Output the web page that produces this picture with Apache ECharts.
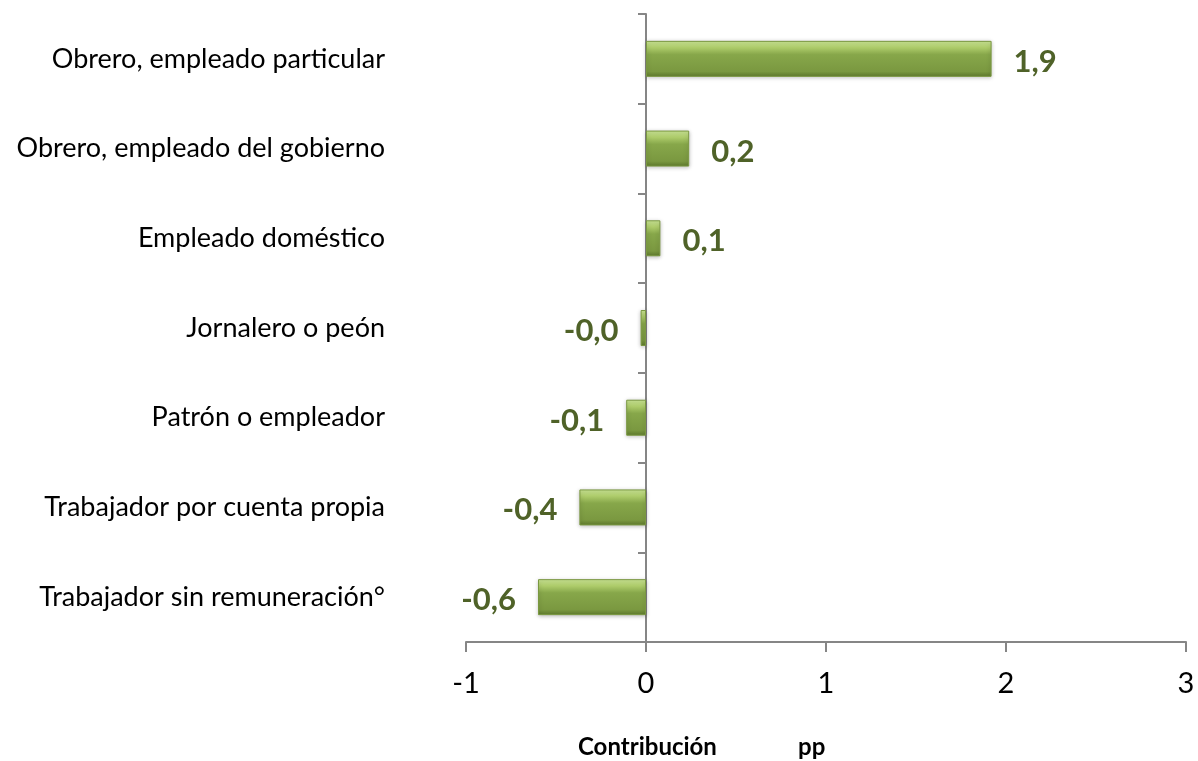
<!DOCTYPE html>
<html style="height: 100%">
    <head>
        <title>Contribución pp</title>
        <script type="text/javascript" src="https://fastly.jsdelivr.net/npm/echarts@6/dist/echarts.min.js"></script>
    </head>
    <body style="height: 100%; margin: 0; background: #fff">
        <div id="target" style="width: 1198px; height: 761px"></div>

<script type="text/javascript">
// categories, top to bottom
let categoryList = [
    "Obrero, empleado particular",
    "Obrero, empleado del gobierno",
    "Empleado doméstico",
    "Jornalero o peón",
    "Patrón o empleador",
    "Trabajador por cuenta propia",
    "Trabajador sin remuneración°",
];

// contribution in pp
let contribList = [1.92, 0.24, 0.08, -0.03, -0.11, -0.37, -0.6];

// x axis ticks
let xTickList = [-1, 0, 1, 2, 3];

let chart = echarts.init(document.getElementById('target'));

let FONT = "Lato";
let AXIS_COLOR = "#868686";

// light top strip, olive body, darker bottom edge
let barColor = new echarts.graphic.LinearGradient(0, 0, 0, 1, [
    { offset: 0,    color: "#cde897" },
    { offset: 0.18, color: "#afcd6c" },
    { offset: 0.38, color: "#87a74a" },
    { offset: 0.85, color: "#7a9840" },
    { offset: 1,    color: "#5f7b2d" },
]);

let titleStyle = {
    fontFamily: FONT,
    fontSize: 24,
    fontWeight: "bold",
    color: "#000",
};

let option = {
    animation: false,
    // axis title is two separate words in the original
    title: [
        { text: "Contribución", left: 573, top: 730, textStyle: titleStyle },
        { text: "pp",           left: 793, top: 730, textStyle: titleStyle },
    ],
    grid: {
        left: 466,
        right: 12,
        top: 14,
        bottom: 119,
        containLabel: false,
    },
    xAxis: {
        type: "value",
        min: xTickList[0],
        max: xTickList[xTickList.length - 1],
        interval: 1,
        splitLine: { show: false },
        axisLine: {
            show: true,
            lineStyle: { color: AXIS_COLOR, width: 2 },
        },
        axisTick: {
            show: true,
            length: 10,
            lineStyle: { color: AXIS_COLOR, width: 2 },
        },
        axisLabel: {
            margin: 27,
            fontFamily: FONT,
            fontSize: 29,
            color: "#000",
        },
    },
    yAxis: [
        {
            // labels only, at the left edge
            type: "category",
            data: categoryList,
            inverse: true,
            position: "left",
            axisLine: { show: false, onZero: false },
            axisTick: { show: false },
            axisLabel: {
                margin: 81,
                fontFamily: FONT,
                fontSize: 27,
                color: "#000",
            },
        },
        {
            // axis line at zero with ticks
            type: "category",
            data: categoryList,
            inverse: true,
            position: "left",
            axisLine: {
                show: true,
                onZero: true,
                lineStyle: { color: AXIS_COLOR, width: 2 },
            },
            axisTick: {
                show: true,
                length: 8,
                lineStyle: { color: AXIS_COLOR, width: 2 },
            },
            axisLabel: { show: false },
        },
    ],
    series: [
        {
            type: "bar",
            yAxisIndex: 0,
            barWidth: 36,
            itemStyle: {
                color: barColor,
                borderColor: "#7a9840",
                borderWidth: 1,
                shadowBlur: 4,
                shadowColor: "rgba(0,0,0,0.25)",
                shadowOffsetY: 1,
            },
            label: {
                show: true,
                distance: 22,
                offset: [0, 3],
                fontFamily: FONT,
                fontSize: 31,
                fontWeight: "bold",
                color: "#4f6228",
                formatter: params => {
                    let s = params.value.toFixed(1).replace(".", ",");
                    if (params.value < 0 && s.charAt(0) != "-")
                    {
                        s = "-" + s;
                    }
                    return s;
                },
            },
            // positive labels to the right, negative to the left
            data: contribList.map(v => ({
                value: v,
                label: { position: v >= 0 ? "right" : "left" },
            })),
        },
    ],
};

chart.setOption(option);
</script>
    </body>
</html>
